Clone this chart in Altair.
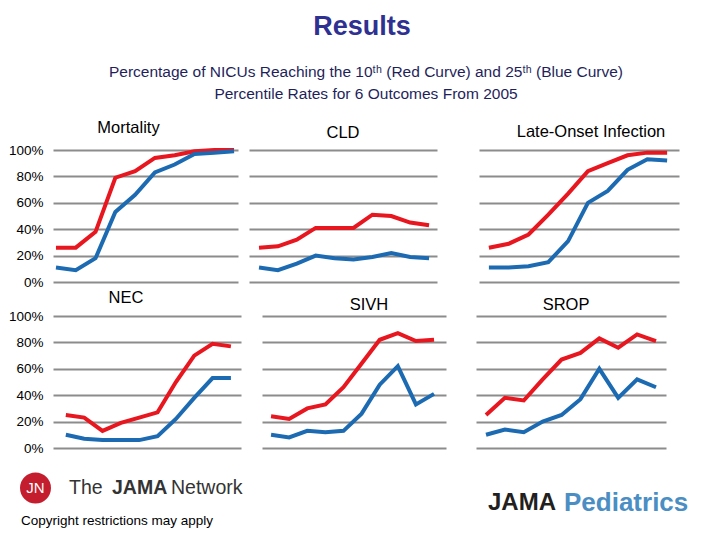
import altair as alt
import pandas as pd

# ---------------- data ----------------
years = [2005, 2006, 2007, 2008, 2009, 2010, 2011, 2012, 2013, 2014]
outcomes = ["Mortality", "CLD", "Late-Onset Infection", "NEC", "SIVH", "SROP"]

p10_mortality = [26, 26, 38, 79, 84, 94, 96, 99, 100, 100]
p25_mortality = [11, 9, 18, 53, 66, 83, 89, 97, 98, 99]

p10_cld = [26, 27, 32, 41, 41, 41, 51, 50, 45, 43]
p25_cld = [11, 9, 14, 20, 18, 17, 19, 22, 19, 18]

p10_loi = [26, 29, 36, 51, 67, 84, 90, 96, 98, 98]
p25_loi = [11, 11, 12, 15, 31, 60, 69, 85, 93, 92]

p10_nec = [25, 23, 13, 19, 23, 27, 50, 70, 79, 77]
p25_nec = [10, 7, 6, 6, 6, 9, 22, 38, 53, 53]

p10_sivh = [24, 22, 30, 33, 46, 64, 82, 87, 81, 82]
p25_sivh = [10, 8, 13, 12, 13, 26, 48, 62, 33, 41]

p10_srop = [25, 38, 36, 52, 67, 72, 83, 76, 86, 81]
p25_srop = [10, 14, 12, 20, 25, 37, 60, 38, 52, 46]

series_names = ["10th", "25th"]
y_ticks = [0, 20, 40, 60, 80, 100]

title_text = "Results"
subtitle_lines = [
    "Percentage of NICUs Reaching the 10\u1d57\u02b0 (Red Curve) and 25\u1d57\u02b0 (Blue Curve)",
    "Percentile Rates for 6 Outcomes From 2005",
]

values = {
    "Mortality": (p10_mortality, p25_mortality),
    "CLD": (p10_cld, p25_cld),
    "Late-Onset Infection": (p10_loi, p25_loi),
    "NEC": (p10_nec, p25_nec),
    "SIVH": (p10_sivh, p25_sivh),
    "SROP": (p10_srop, p25_srop),
}

rows = []
for name in outcomes:
    for sname, arr in zip(series_names, values[name]):
        for yr, v in zip(years, arr):
            rows.append({"outcome": name, "year": yr, "pct": v, "series": sname})
df = pd.DataFrame(rows)

# ---------------- styling ----------------
RED = "#E8161F"
BLUE = "#1C6BB2"
GRID = "#8C8C8C"
FONT = "Liberation Sans"
X0 = 52  # page x of the plot-area origin (header/footer coordinates are relative to it)

# (width, left pad in years, right pad in years, title dx, title offset)
layout = {
    "Mortality": (185, 0.15, 0.2, -17, 6),
    "CLD": (188, 0.53, 0.42, 0, 9),
    "Late-Onset Infection": (200, 0.5, 0.6, 12, 4),
    "NEC": (188, 0.7, 0.55, -21, 3),
    "SIVH": (184, 0.5, 0.66, 15, 3),
    "SROP": (190, 0.53, 0.53, -5, 3),
}


def panel(name, left_axis):
    w, pl, pr, tdx, toff = layout[name]
    return (
        alt.Chart(df)
        .transform_filter(alt.datum.outcome == name)
        .mark_line(strokeWidth=4)
        .encode(
            x=alt.X("year:Q", axis=None,
                    scale=alt.Scale(domain=[years[0] - pl, years[-1] + pr], nice=False, zero=False)),
            y=alt.Y("pct:Q",
                    scale=alt.Scale(domain=[0, 100], nice=False),
                    axis=alt.Axis(values=y_ticks, labelExpr="datum.value + '%'",
                                  labels=left_axis, ticks=False, domain=False,
                                  grid=True, gridColor=GRID, gridWidth=2, gridOpacity=1,
                                  title=None, labelFontSize=13.5, labelColor="#000000",
                                  labelFont=FONT, labelPadding=10 if left_axis else 0,
                                  minExtent=0, offset=0)),
            color=alt.Color("series:N", legend=None,
                            scale=alt.Scale(domain=series_names, range=[RED, BLUE])),
        )
        .properties(
            width=w, height=132,
            title=alt.TitleParams(name, fontSize=16.5, font=FONT, fontWeight="normal",
                                  color="#000000", frame="group", offset=toff, dx=tdx,
                                  anchor="middle"),
        )
    )


row1 = alt.hconcat(
    alt.hconcat(panel("Mortality", True), panel("CLD", False), spacing=6),
    panel("Late-Onset Infection", False),
    spacing=41,
)
row2 = alt.hconcat(
    alt.hconcat(panel("NEC", True), panel("SIVH", False), spacing=21),
    panel("SROP", False),
    spacing=30,
)

# ---------------- header / footer text ----------------
dummy = pd.DataFrame({"k": [0]})


def ftext(txt, x, y, size, color, weight="normal", align="left"):
    return alt.Chart(dummy).mark_text(
        text=txt, font=FONT, fontSize=size, color=color, fontWeight=weight,
        align=align, baseline="middle",
    ).encode(x=alt.value(x - X0), y=alt.value(y))


header = alt.layer(
    ftext(title_text, 361, 19, 27, "#2E3192", weight="bold", align="center"),
    ftext(subtitle_lines[0], 365, 64, 15.5, "#1F1F5C", align="center"),
    ftext(subtitle_lines[1], 365, 86, 15.5, "#1F1F5C", align="center"),
).properties(width=655, height=104)

circle = alt.Chart(dummy).mark_point(
    filled=True, shape="circle", size=960, color="#C41E2E", opacity=1
).encode(x=alt.value(34.5 - X0), y=alt.value(27))

footer = alt.layer(
    circle,
    ftext("JN", 34.5, 27, 15, "#FFFFFF", align="center"),
    ftext("The", 68, 27, 19.5, "#333333"),
    ftext("JAMA", 111, 27, 19.5, "#333333", weight="bold"),
    ftext("Network", 170, 27, 19.5, "#333333"),
    ftext("Copyright restrictions may apply", 20, 60, 13.5, "#000000"),
    ftext("JAMA", 487, 42, 24, "#231F20", weight="bold"),
    ftext("Pediatrics", 563, 42, 26, "#4A8EC4", weight="bold"),
).properties(width=655, height=72)

chart = (
    alt.vconcat(
        header,
        alt.vconcat(
            alt.vconcat(row1, row2, spacing=0),
            footer,
            spacing=6,
        ),
        spacing=7,
    )
    .properties(
        padding={"left": 0, "top": 0, "right": 0, "bottom": 0},
        background="#FFFFFF",
    )
    .configure_view(stroke=None)
)

chart.save("out.html", embed_options={"renderer": "svg", "actions": False})
